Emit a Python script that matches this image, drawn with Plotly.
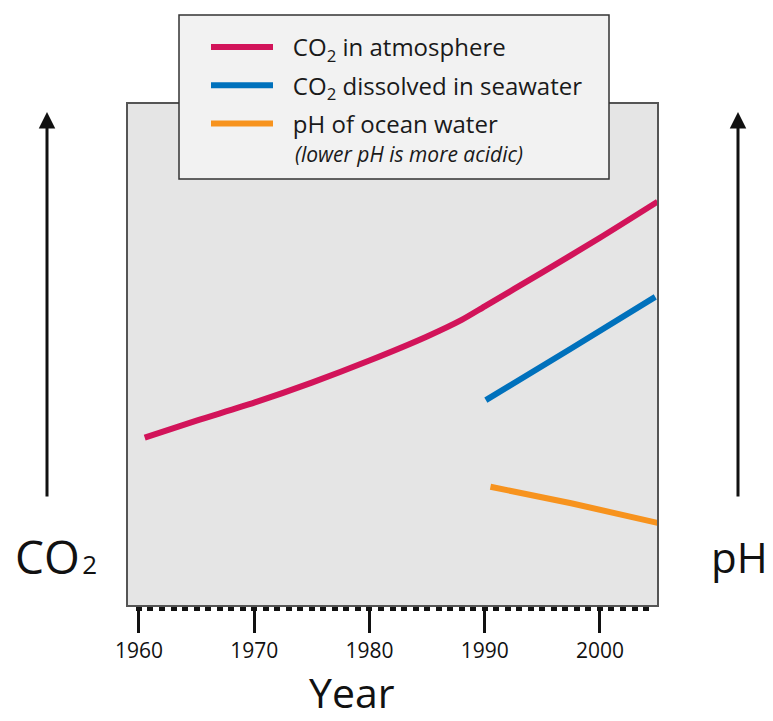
import plotly.graph_objects as go

# ---- data (arbitrary relative units) ----
atm_years = [1960.5, 1965, 1970, 1975, 1980, 1985, 1988, 1990, 1995, 2000, 2005]
atm_vals = [33.4, 36.8, 40.4, 44.4, 48.8, 53.6, 56.9, 59.6, 66.4, 73.3, 80.5]

sea_years = [1990.1, 1997.5, 2004.8]
sea_vals = [40.9, 51.2, 61.5]

ph_years = [1990.5, 1997.5, 2005]
ph_vals = [23.6, 20.3, 16.4]

x_ticks = [1960, 1970, 1980, 1990, 2000]
x_tick_labels = ["1960", "1970", "1980", "1990", "2000"]

NB = "\u00a0\u00a0\u200a"
names = [NB + "CO<sub>2</sub> in atmosphere",
         NB + "CO<sub>2</sub> dissolved in seawater",
         NB + "pH of ocean water"]
ph_note = "(lower pH is more acidic)"
colors = ["#d2145a", "#0071bc", "#f7931e"]

# reference geometry (page pixels); the page body adds an 8px margin
OFF = 8
RW, RH = 773, 721
RL, RR, RT, RB = 128, 657, 104, 605
W, H = RW - OFF, RH - OFF
L, T = RL - OFF, RT - OFF
R, B = W - (RR - OFF), H - (RB - OFF)
pw, ph = RR - RL, RB - RT

def px(xp):
    return (xp - RL) / pw

def py(yp):
    return (RB - yp) / ph

FONT = "Open Sans, Lato, sans-serif"

fig = go.Figure()
for i, (xs, ys) in enumerate([(atm_years, atm_vals), (sea_years, sea_vals), (ph_years, ph_vals)]):
    fig.add_trace(go.Scatter(x=xs, y=ys, mode="lines", name=names[i],
                             line=dict(color=colors[i], width=6, shape="spline", smoothing=0.6),
                             legendgroup=str(i), cliponaxis=True))

fig.update_layout(
    width=W, height=H,
    margin=dict(l=L, r=R, t=T, b=B),
    paper_bgcolor="white",
    plot_bgcolor="#e5e5e5",
    font=dict(family=FONT, color="#111"),
    showlegend=True,
    legend=dict(x=px(206), y=py(25), xanchor="left", yanchor="top",
                bgcolor="rgba(0,0,0,0)", borderwidth=0,
                font=dict(size=24, color="#1a1a1a", family=FONT),
                itemwidth=62, tracegroupgap=4, traceorder="grouped", valign="middle"),
    xaxis=dict(range=[1959.05, 2004.95], tickvals=x_ticks, ticktext=x_tick_labels,
               ticks="outside", ticklen=26, tickwidth=2.5, tickcolor="#111",
               tickfont=dict(size=21, color="#111", family=FONT),
               showgrid=False, zeroline=False,
               showline=True, mirror=True, linecolor="#555", linewidth=1.5,
               minor=dict(dtick=1, ticks="outside", ticklen=4, tickwidth=6, tickcolor="#111", showgrid=False)),
    yaxis=dict(range=[0, 100], showticklabels=False, ticks="", showgrid=False, zeroline=False,
               showline=True, mirror=True, linecolor="#555", linewidth=1.5),
)

# legend box
fig.add_shape(type="rect", xref="paper", yref="paper",
              x0=px(179), x1=px(609), y0=py(179), y1=py(15),
              fillcolor="#f2f2f2", line=dict(color="#333", width=1.5), layer="above")

# legend note under the pH entry
fig.add_annotation(x=px(293), y=py(154), xref="paper", yref="paper",
                   text="<i>" + ph_note + "</i>", xanchor="left", yanchor="middle",
                   showarrow=False, font=dict(size=21, color="#1a1a1a", family=FONT))

# axis labels
fig.add_annotation(x=px(352), y=py(692), xref="paper", yref="paper", text="Year",
                   xanchor="center", yanchor="middle",
                   showarrow=False, font=dict(size=41, color="#111", family=FONT))
fig.add_annotation(x=px(56), y=py(556), xref="paper", yref="paper",
                   text="CO<span style='font-size:26px'>\u200a" + "2</span>",
                   xanchor="center", yanchor="middle",
                   showarrow=False, font=dict(size=46, color="#111", family=FONT))
fig.add_annotation(x=px(739), y=py(556), xref="paper", yref="paper", text="pH",
                   xanchor="center", yanchor="middle",
                   showarrow=False, font=dict(size=42, color="#111", family=FONT))

# arrows
for xa in [47, 738]:
    fig.add_annotation(x=px(xa), y=py(112), xref="paper", yref="paper", text="",
                       showarrow=True, ax=0, ay=498 - 112, arrowhead=2, arrowsize=1.1,
                       arrowwidth=3, arrowcolor="#111")

fig.write_html("out.html")
